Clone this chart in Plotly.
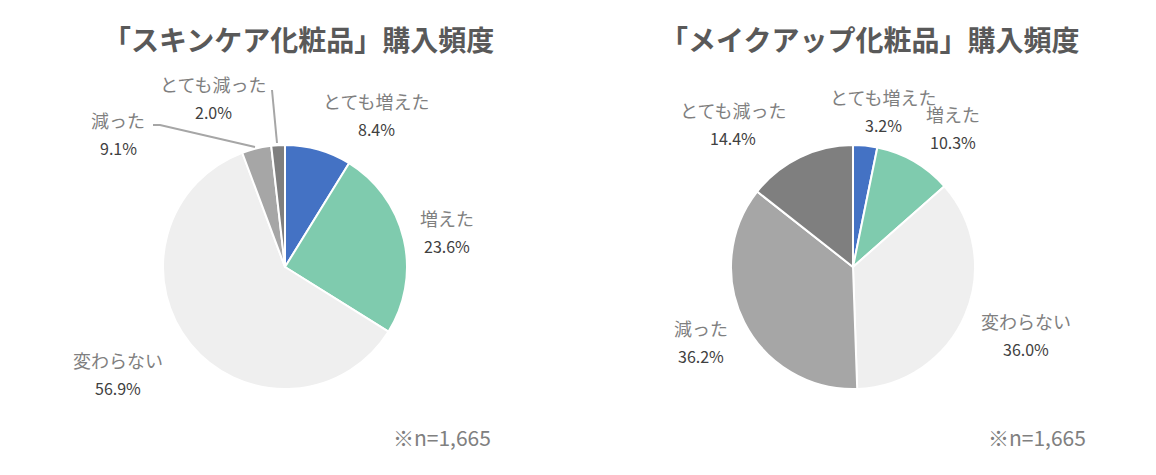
import plotly.graph_objects as go

W, H = 1156, 475

categories = ["とても増えた", "増えた", "変わらない", "減った", "とても減った"]
colors = ["#4472C4", "#7FCBAE", "#EFEFEF", "#A6A6A6", "#7F7F7F"]

# slice sizes as drawn in the picture
skincare_values = [8.8, 25.1, 60.4, 3.9, 1.8]
makeup_values = [3.2, 10.3, 36.0, 36.2, 14.4]
# percentage labels as printed
skincare_labels = ["8.4%", "23.6%", "56.9%", "9.1%", "2.0%"]
makeup_labels = ["3.2%", "10.3%", "36.0%", "36.2%", "14.4%"]

titles = ["「スキンケア化粧品」購入頻度", "「メイクアップ化粧品」購入頻度"]
note = "※n=1,665"

FONT = "Noto Sans CJK JP"


def px(x):
    return x / W


def py(y):
    return 1 - y / H


fig = go.Figure()

pies = [
    (skincare_values, 285, 267, 122),
    (makeup_values, 853, 267, 122),
]
for vals, cx, cy, r in pies:
    fig.add_trace(go.Pie(
        labels=categories, values=vals, sort=False, direction="clockwise",
        rotation=0, textinfo="none", hoverinfo="label+percent",
        marker=dict(colors=colors, line=dict(color="#FFFFFF", width=2)),
        domain=dict(x=[px(cx - r), px(cx + r)], y=[py(cy + r), py(cy - r)]),
        showlegend=False,
    ))

annotations = []
# titles
for t, x in zip(titles, [298, 869]):
    annotations.append(dict(text="<b>" + t + "</b>", x=px(x), y=py(39), xref="paper", yref="paper",
                            showarrow=False, font=dict(family=FONT, size=28, color="#595959"),
                            xanchor="center", yanchor="middle"))

label_pos = [
    [(376, 101), (447, 218), (118, 360), (118, 120), (213, 84)],
    [(884, 97), (953, 114), (1026, 321), (701, 328), (733, 110)],
]
for pos, pcts in zip(label_pos, [skincare_labels, makeup_labels]):
    for (x, y), cat, pct in zip(pos, categories, pcts):
        annotations.append(dict(text=cat, x=px(x), y=py(y), xref="paper", yref="paper",
                                showarrow=False, font=dict(family=FONT, size=18, color="#7F7F7F"),
                                xanchor="center", yanchor="middle"))
        annotations.append(dict(text=pct, x=px(x), y=py(y + 28), xref="paper", yref="paper",
                                showarrow=False, font=dict(family=FONT, size=16, color="#404040"),
                                xanchor="center", yanchor="middle"))

for x in [442, 1037]:
    annotations.append(dict(text=note, x=px(x), y=py(437), xref="paper", yref="paper",
                            showarrow=False, font=dict(family=FONT, size=21, color="#808080"),
                            xanchor="center", yanchor="middle"))

shapes = [
    dict(type="path", xref="paper", yref="paper",
         path=f"M {px(153)} {py(125)} L {px(160)} {py(125)} L {px(255)} {py(147)}",
         line=dict(color="#A6A6A6", width=2)),
    dict(type="line", xref="paper", yref="paper",
         x0=px(272), y0=py(90), x1=px(277), y1=py(143),
         line=dict(color="#A6A6A6", width=2)),
]

fig.update_layout(
    width=W, height=H, margin=dict(l=0, r=0, t=0, b=0),
    paper_bgcolor="#FFFFFF", plot_bgcolor="#FFFFFF",
    annotations=annotations, shapes=shapes,
)

fig.write_html("out.html")
